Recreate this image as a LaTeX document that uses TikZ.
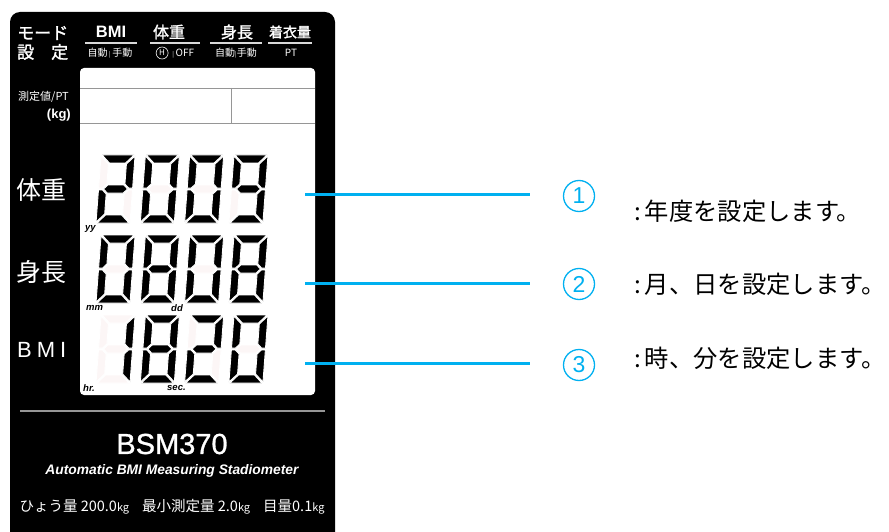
\documentclass[tikz,border=0pt]{standalone}
\usepackage{fontspec}
\setmainfont{Liberation Sans}
\newfontfamily\jp{Noto Sans CJK JP}
\newfontfamily\jpb{Noto Sans CJK JP}[FakeBold=1.6]
\newfontfamily\modelfont{Liberation Sans}[FakeBold=1.0]
\definecolor{cyanline}{RGB}{0,176,240}
\definecolor{ghost}{RGB}{252,246,246}
\definecolor{lcdgray}{RGB}{150,150,150}
\newcommand\fsz[1]{\fontsize{#1}{#1}\selectfont}
% seven-segment pieces (local units, y up, W=34, H=68)
\tikzset{segfill/.style={fill=#1,draw=white,line width=0.9pt,line join=miter}}
\newcommand\lcdsega[1]{\path[segfill=#1] (1,68) -- (33,68) -- (25,60) -- (9,60) -- cycle;}
\newcommand\lcdsegd[1]{\path[segfill=#1] (1,0) -- (33,0) -- (25,8) -- (9,8) -- cycle;}
\newcommand\lcdsegg[1]{\path[segfill=#1] (5,34) -- (9,38) -- (25,38) -- (29,34) -- (25,30) -- (9,30) -- cycle;}
\newcommand\lcdsegf[1]{\path[segfill=#1] (0,67) -- (8,59) -- (8,39) -- (4,35) -- (0,35) -- cycle;}
\newcommand\lcdsege[1]{\path[segfill=#1] (0,1) -- (8,9) -- (8,29) -- (4,33) -- (0,33) -- cycle;}
\newcommand\lcdsegb[1]{\path[segfill=#1] (34,67) -- (26,59) -- (26,39) -- (30,35) -- (34,35) -- cycle;}
\newcommand\lcdsegc[1]{\path[segfill=#1] (34,1) -- (26,9) -- (26,29) -- (30,33) -- (34,33) -- cycle;}
\newcommand\lcddigit[3]{%
  \begin{scope}[shift={(#1,#2)},xslant=0.075,y=1pt]
    \foreach \s in {a,b,c,d,e,f,g}{\csname lcdseg\s\endcsname{ghost}}
    \foreach \s in {#3}{\csname lcdseg\s\endcsname{black}}
  \end{scope}}
\begin{document}
\begin{tikzpicture}[x=1pt,y=-1pt,
  wtxt/.style={text=white,inner sep=0pt},
  hdr/.style={wtxt,font=\jpb\fsz{16}},
  sub/.style={wtxt,font=\jp\fsz{10}},
  side/.style={wtxt,font=\jp\fsz{25},anchor=west},
  unit/.style={inner sep=0pt,font=\bfseries\itshape\fsz{9.5},anchor=west},
  uline/.style={draw=white!85!black,line width=1.2pt},
  conn/.style={draw=cyanline,line width=3pt},
  numc/.style={circle,draw=cyanline,line width=1.3pt,minimum size=31pt,inner sep=0pt,text=cyanline,font=\fsz{23}},
  note/.style={anchor=west,inner sep=0pt,font=\jp\fsz{24.3}}]
\useasboundingbox (0,0) rectangle (889,532);
% panel
\fill[black,rounded corners=10pt] (10,560) -- (10,12) -- (335,12) -- (335,560) -- cycle;
% LCD window
\fill[white,rounded corners=4pt] (80,68) rectangle (315,395);
\draw[lcdgray,line width=0.8pt] (80,88) -- (315,88) (80,123) -- (315,123) (231,88) -- (231,123);
% headers
\node[hdr,anchor=west,font=\jpb\fsz{17}] (mode) at (17,33) {モード};
\node[hdr,anchor=west,font=\jpb\fsz{17}] (settei) at (17,52) {設\hspace{17pt}定};
\node[hdr,font=\bfseries\fsz{16.5}] (hbmi) at (111,32) {BMI};
\node[hdr] (hwt) at (169,32) {体重};
\node[hdr] (hht) at (237,32) {身長};
\node[hdr,font=\jpb\fsz{14}] (hcl) at (290,32) {着衣量};
\draw[uline] (85,43) -- (137,43) (150,43) -- (200,43) (210,43) -- (262,43) (268,43) -- (312,43);
\node[sub] (s1) at (110,53) {自動\,{\fsz{6}|}\,手動};
\node[sub] (s2) at (175,53) {\tikz[baseline=-3.5pt]\draw[white,line width=0.6pt] (0,0) circle[radius=6pt] node[font=\fsz{8}]{H};\hspace{4pt}{\fsz{6}|}\,OFF};
\node[sub] (s3) at (236,53) {自動{\fsz{6}|}手動};
\node[sub] (s4) at (291,53) {PT};
\node[wtxt,anchor=west,font=\jp\fsz{11}] (meas) at (18,97) {測定値/PT};
\node[wtxt,anchor=east,font=\bfseries\fsz{13}] (kg) at (71,115) {(kg)};
% side labels
\node[side] (lwt) at (16,190) {体重};
\node[side] (lht) at (16,272) {身長};
\node[side,font=\fsz{22}] (lbmi) at (17,350) {B\hspace{5pt}M\hspace{5pt}I};
% digits
\lcddigit{96}{223}{a,b,g,e,d}
\lcddigit{140.3}{223}{a,b,c,d,e,f}
\lcddigit{184.6}{223}{a,b,c,d,e,f}
\lcddigit{228.9}{223}{a,b,c,d,f,g}
\lcddigit{96}{303}{a,b,c,d,e,f}
\lcddigit{140.3}{303}{a,b,c,d,e,f,g}
\lcddigit{184.6}{303}{a,b,c,d,e,f}
\lcddigit{228.9}{303}{a,b,c,d,e,f,g}
\lcddigit{96}{383}{b,c}
\lcddigit{140.3}{383}{a,b,c,d,e,f,g}
\lcddigit{184.6}{383}{a,b,g,e,d}
\lcddigit{228.9}{383}{a,b,c,d,e,f}
\node[unit] (yy) at (85,229) {yy};
\node[unit] (mm) at (86,308) {mm};
\node[unit] (dd) at (171,308) {dd};
\node[unit] (hr) at (83,388) {hr.};
\node[unit] (sec) at (167,388) {sec.};
% bottom
\draw[lcdgray,line width=1.5pt] (20,411) -- (325,411);
\node[wtxt,font=\modelfont\fsz{29}] (model) at (172,444) {BSM370};
\node[wtxt,font=\bfseries\itshape\fsz{13.8}] (desc) at (172,471) {Automatic BMI Measuring Stadiometer};
\node[wtxt,font=\jp\fsz{14.5}] (spec) at (172,507) {ひょう量 200.0{\fsz{11}kg}\hspace{13pt}最小測定量 2.0{\fsz{11}kg}\hspace{13pt}目量0.1{\fsz{11}kg}};
% callouts
\coordinate (a1) at (305,194); \coordinate (b1) at (530,194);
\coordinate (a2) at (305,283); \coordinate (b2) at (530,283);
\coordinate (a3) at (305,363); \coordinate (b3) at (530,363);
\draw[conn] (a1) -- (b1);
\draw[conn] (a2) -- (b2);
\draw[conn] (a3) -- (b3);
\node[numc] (c1) at (579,196) {1};
\node[numc] (c2) at (579,284) {2};
\node[numc] (c3) at (579,365) {3};
\node[note] (t1) at (634,211) {:\,年度を設定します。};
\node[note] (t2) at (634,284) {:\,月、日を設定します。};
\node[note] (t3) at (634,358) {:\,時、分を設定します。};
\end{tikzpicture}
\end{document}
